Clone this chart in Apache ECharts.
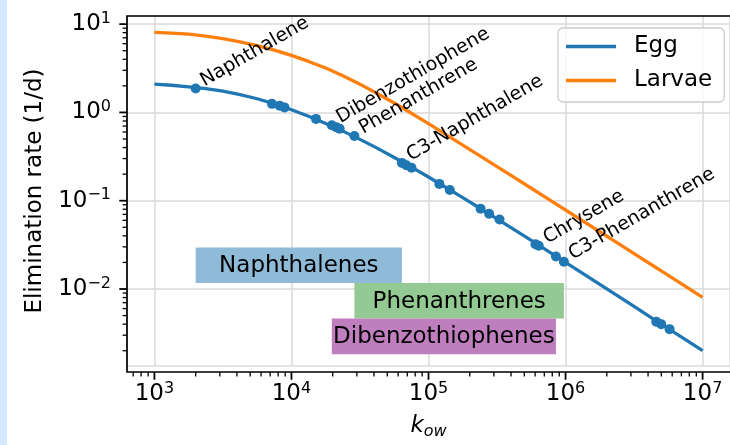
<!DOCTYPE html>
<html><head><meta charset="utf-8">
<script src="https://cdn.jsdelivr.net/npm/echarts@6/dist/echarts.min.js"></script>
<style>html,body{margin:0;padding:0;background:#fff;}#c{width:730px;height:445px;}</style>
</head><body><div id="c"></div>
<script>
// ---- data ----
const kowGrid = [1000, 1334, 1778, 2371, 3162, 4217, 5623, 7499, 10000, 13335, 17783, 23714, 31623, 42170, 56234, 74989,
  100000, 133352, 177828, 237137, 316228, 421697, 562341, 749894, 1000000, 1333521, 1778279, 2371374, 3162278, 4216965, 5623413, 7498942, 10000000];
const eggRate = [2.09, 2.03, 1.95, 1.86, 1.74, 1.594, 1.429, 1.252, 1.072, 0.905, 0.750, 0.614, 0.495, 0.394, 0.309, 0.2404,
  0.1854, 0.1421, 0.1084, 0.0822, 0.0624, 0.0470, 0.0355, 0.02667, 0.02004, 0.01503, 0.01127, 0.00845, 0.00634, 0.00475, 0.00356, 0.00267, 0.00200];
const larvaeRate = [8.05, 7.91, 7.69, 7.33, 6.85, 6.31, 5.70, 5.07, 4.43, 3.78, 3.18, 2.60, 2.09, 1.64, 1.28, 0.979,
  0.745, 0.565, 0.427, 0.322, 0.243, 0.1834, 0.1384, 0.1042, 0.0785, 0.0591, 0.0445, 0.0335, 0.0252, 0.01895, 0.01426, 0.01072, 0.00805];
const compoundKow = [2000, 7210, 8200, 8900, 15100, 19700, 21200, 22500, 28800, 64000, 68900, 75200, 120000, 143000, 240000, 277000, 330000, 603000, 637000, 851000, 973000, 4590000, 4990000, 5740000];
const compoundRate = [1.87, 1.25, 1.19, 1.14, 0.845, 0.716, 0.681, 0.653, 0.541, 0.268, 0.252, 0.236, 0.155, 0.132, 0.0811, 0.0713, 0.0614, 0.0322, 0.0309, 0.0233, 0.0204, 0.00427, 0.0040, 0.00351];
const labelNames = ['Naphthalene', 'Dibenzothiophene', 'Phenanthrene', 'C3-Naphthalene', 'Chrysene', 'C3-Phenanthrene'];
const labelKow = [2000, 19700, 28800, 64000, 637000, 973000];
const groupNames = ['Naphthalenes', 'Phenanthrenes', 'Dibenzothiophenes'];
const groupKowMin = [2000, 28800, 19700];
const groupKowMax = [64000, 973000, 851000];
const seriesNames = ['Egg', 'Larvae'];
const xMajorTicks = [1e3, 1e4, 1e5, 1e6, 1e7];
const yMajorTicks = [1e-2, 1e-1, 1, 10];

// ---- layout / style ----
const FONT = 'DejaVu Sans';
const FS = 23, FS_SMALL = 19, FS_SUP = 16;
const G = {left: 127, top: 16, width: 607, height: 356};
const groupYFrac = [[0.25, 0.35], [0.15, 0.25], [0.05, 0.15]];
const groupColors = ['#8fbbd9', '#93c993', '#bf7fbf'];
const XMIN = Math.pow(10, 2.8), XMAX = Math.pow(10, 7.2);
const YMIN = Math.pow(10, -2.872), YMAX = Math.pow(10, 1.092);

function powLabel(v) {
  const l = Math.log10(v), e = Math.round(l);
  if (Math.abs(l - e) > 1e-6) return '';
  return '{b|10}{s|' + (e < 0 ? '\u2212' + (-e) : e) + '}';
}
const tickRich = {
  b: {fontSize: FS, fontFamily: FONT, color: '#000', lineHeight: 27},
  s: {fontSize: FS_SUP, fontFamily: FONT, color: '#000', lineHeight: 16, verticalAlign: 'top'}
};

const chart = echarts.init(document.getElementById('c'), null, {renderer: 'canvas'});
const option = {
  animation: false,
  backgroundColor: '#ffffff',
  grid: {left: G.left, top: G.top, width: G.width, height: G.height, containLabel: false},
  legend: {
    data: seriesNames, orient: 'vertical', left: 558, top: 28,
    icon: 'rect', itemWidth: 50, itemHeight: 3.3, itemGap: 11,
    padding: [7, 12, 10, 8], borderColor: '#cccccc', borderWidth: 1.3, borderRadius: 5,
    backgroundColor: 'rgba(255,255,255,0.8)',
    textStyle: {fontSize: FS, fontFamily: FONT, color: '#000', padding: [0, 0, 0, 13]}
  },
  xAxis: {
    type: 'log', logBase: 10, min: XMIN, max: XMAX,
    axisLine: {show: false}, axisTick: {show: false},
    splitLine: {show: true, lineStyle: {color: '#dadada', width: 1.5}},
    axisLabel: {formatter: powLabel, rich: tickRich, margin: 15, showMinLabel: false, showMaxLabel: false},
    name: '{k|k}{o|ow}', nameLocation: 'middle', nameGap: 46,
    nameTextStyle: {rich: {
      k: {fontSize: FS, fontFamily: FONT, fontStyle: 'italic', color: '#000', lineHeight: 28},
      o: {fontSize: FS_SUP, fontFamily: FONT, fontStyle: 'italic', color: '#000', lineHeight: 15, verticalAlign: 'bottom'}
    }}
  },
  yAxis: {
    type: 'log', logBase: 10, min: YMIN, max: YMAX,
    axisLine: {show: false}, axisTick: {show: false},
    splitLine: {show: true, lineStyle: {color: '#dadada', width: 1.5}},
    axisLabel: {formatter: powLabel, rich: tickRich, margin: 16, showMinLabel: false, showMaxLabel: false},
    name: 'Elimination rate (1/d)', nameLocation: 'middle', nameGap: 80, nameRotate: 90,
    nameTextStyle: {fontSize: FS, fontFamily: FONT, color: '#000'}
  },
  series: [
    {name: seriesNames[0], type: 'line', showSymbol: false, smooth: false, z: 3,
     data: kowGrid.map((k, i) => [k, eggRate[i]]),
     lineStyle: {color: '#1f77b4', width: 3.3}, itemStyle: {color: '#1f77b4'}, emphasis: {disabled: true}},
    {name: seriesNames[1], type: 'line', showSymbol: false, smooth: false, z: 3,
     data: kowGrid.map((k, i) => [k, larvaeRate[i]]),
     lineStyle: {color: '#ff7f0e', width: 3.3}, itemStyle: {color: '#ff7f0e'}, emphasis: {disabled: true}},
    {name: 'compounds', type: 'scatter', symbolSize: 10, z: 4,
     itemStyle: {color: '#1f77b4', opacity: 1}, emphasis: {disabled: true},
     data: compoundKow.map((k, i) => {
       const j = labelKow.indexOf(k);
       const item = {value: [k, compoundRate[i]], name: j >= 0 ? labelNames[j] : ''};
       if (j >= 0) item.label = {show: true};
       return item;
     }),
     label: {show: false, formatter: '{b}', position: [16, 7], rotate: 30, align: 'left', verticalAlign: 'bottom',
             fontSize: FS_SMALL, fontFamily: FONT, color: '#000'}
    }
  ]
};
chart.setOption(option);

const px = v => chart.convertToPixel({xAxisIndex: 0}, v);
const py = v => chart.convertToPixel({yAxisIndex: 0}, v);
const gr = [];
gr.push({type: 'rect', shape: {x: 0, y: 0, width: 7, height: 445}, style: {fill: '#d5e8fb'}, z: 0});
groupNames.forEach((n, i) => {
  const x0 = px(groupKowMin[i]), x1 = px(groupKowMax[i]);
  const y0 = G.top + G.height * (1 - groupYFrac[i][1]);
  const y1 = G.top + G.height * (1 - groupYFrac[i][0]);
  gr.push({type: 'rect', shape: {x: x0, y: y0, width: x1 - x0, height: y1 - y0}, style: {fill: groupColors[i]}, z: 5});
  gr.push({type: 'text', x: (x0 + x1) / 2, y: (y0 + y1) / 2 + 1, z: 6,
           style: {text: n, fontSize: FS, fontFamily: FONT, fill: '#000', align: 'center', verticalAlign: 'middle'}});
});
const yb = G.top + G.height;
function minors(lo, hi) {
  const out = [];
  for (let e = Math.floor(Math.log10(lo)); e <= Math.ceil(Math.log10(hi)); e++) {
    for (let m = 2; m <= 9; m++) { const v = m * Math.pow(10, e); if (v >= lo && v <= hi) out.push(v); }
  }
  return out;
}
xMajorTicks.forEach(v => { const x = px(v); gr.push({type: 'line', shape: {x1: x, y1: yb, x2: x, y2: yb + 7.7}, style: {stroke: '#000', lineWidth: 1.8}, z: 20}); });
minors(XMIN, XMAX).forEach(v => { const x = px(v); gr.push({type: 'line', shape: {x1: x, y1: yb, x2: x, y2: yb + 4.4}, style: {stroke: '#000', lineWidth: 1.3}, z: 20}); });
yMajorTicks.forEach(v => { const y = py(v); gr.push({type: 'line', shape: {x1: G.left, y1: y, x2: G.left - 7.7, y2: y}, style: {stroke: '#000', lineWidth: 1.8}, z: 20}); });
minors(YMIN, YMAX).forEach(v => { const y = py(v); gr.push({type: 'line', shape: {x1: G.left, y1: y, x2: G.left - 4.4, y2: y}, style: {stroke: '#000', lineWidth: 1.3}, z: 20}); });
gr.push({type: 'rect', shape: {x: G.left, y: G.top, width: G.width, height: G.height}, style: {fill: 'none', stroke: '#000', lineWidth: 1.7}, z: 20});
chart.setOption({graphic: gr});
</script></body></html>
